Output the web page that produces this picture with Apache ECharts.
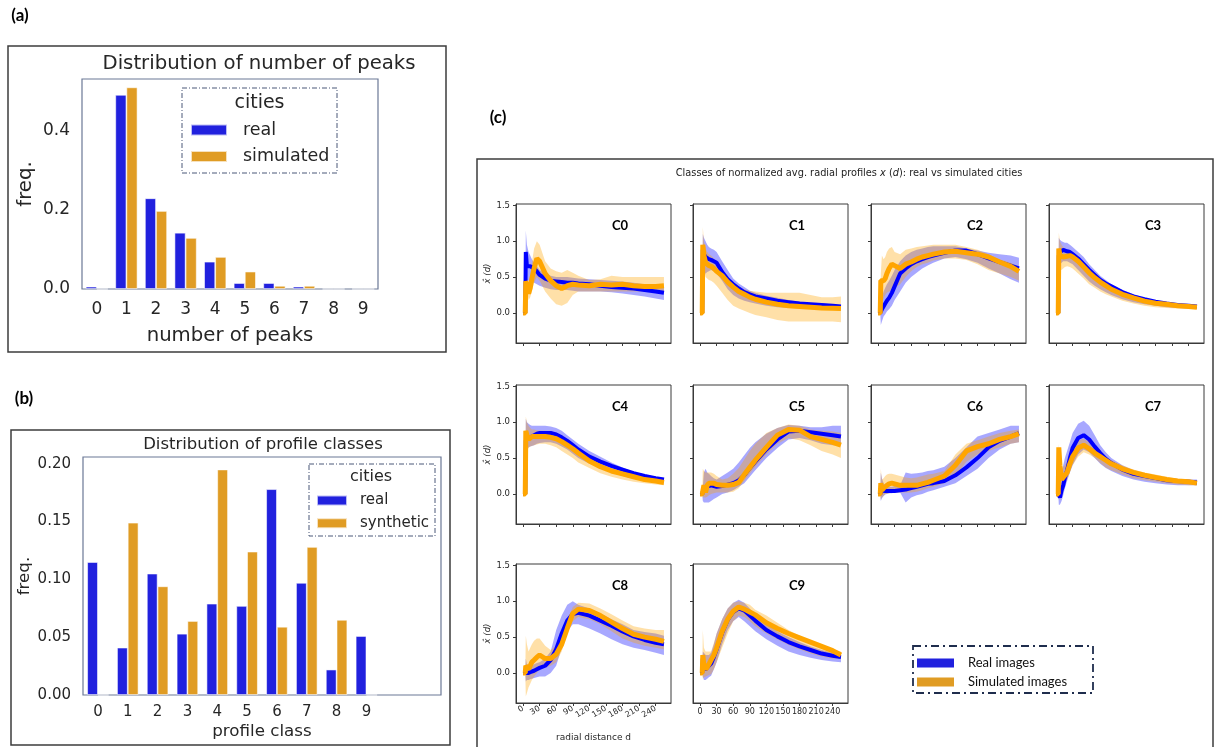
<!DOCTYPE html>
<html>
<head>
<meta charset="utf-8">
<script src="https://cdn.jsdelivr.net/npm/echarts@6/dist/echarts.min.js"></script>
<style>
html,body{margin:0;padding:0;background:#fff;}
#chart{width:1216px;height:747px;}
</style>
</head>
<body>
<div id="chart"></div>
<script>
// ---------- Panel (a): distribution of number of peaks ----------
const peakCats = ['0','1','2','3','4','5','6','7','8','9'];
const peaksReal = [0.006,0.490,0.229,0.142,0.069,0.015,0.015,0.006,0,0];
const peaksSim  = [0,0.509,0.197,0.129,0.081,0.044,0.008,0.008,0,0];
const peakYTicks = [0,0.2,0.4];

// ---------- Panel (b): distribution of profile classes ----------
const classCats = ['0','1','2','3','4','5','6','7','8','9',' ','  '];
const classReal = [0.115,0.041,0.105,0.053,0.079,0.077,0.178,0.097,0.022,0.051];
const classSim  = [0,0.149,0.094,0.064,0.195,0.124,0.059,0.128,0.065,0];
const classYTicks = [0,0.05,0.10,0.15,0.20];

// ---------- Panel (c): radial profiles ----------
const D = [0,4,5,7,10,13,16,20,25,30,40,50,60,70,80,90,100,120,140,160,180,200,220,240,255];
const radialTicks = [0,30,60,90,120,150,180,210,240];
const profileYTicks = [0,0.5,1.0,1.5];

const c0RealMean=[0,0,0.85,0.65,0.65,0.65,0.65,0.62,0.58,0.53,0.48,0.45,0.44,0.43,0.42,0.42,0.41,0.40,0.38,0.36,0.35,0.34,0.32,0.30,0.28];
const c0RealLo  =[0,0,0.40,0.45,0.45,0.44,0.43,0.42,0.40,0.38,0.35,0.33,0.32,0.32,0.32,0.31,0.30,0.30,0.30,0.29,0.27,0.25,0.23,0.20,0.18];
const c0RealHi  =[0,0,1.15,0.95,0.85,0.80,0.75,0.70,0.65,0.60,0.55,0.52,0.50,0.50,0.50,0.49,0.48,0.47,0.46,0.45,0.44,0.42,0.40,0.38,0.35];
const c0SimMean =[0,0,0.44,0.40,0.27,0.35,0.48,0.62,0.76,0.72,0.55,0.45,0.38,0.34,0.38,0.40,0.39,0.38,0.40,0.39,0.40,0.38,0.37,0.37,0.38];
const c0SimLo   =[0,0,0.35,0.30,0.18,0.22,0.30,0.42,0.50,0.45,0.30,0.20,0.12,0.10,0.14,0.25,0.30,0.30,0.30,0.30,0.30,0.30,0.30,0.29,0.28];
const c0SimHi   =[0,0,0.55,0.50,0.40,0.50,0.70,0.90,1.00,0.95,0.72,0.62,0.58,0.56,0.60,0.56,0.52,0.46,0.47,0.52,0.50,0.50,0.50,0.50,0.50];

const c1RealMean=[0,0,0.88,0.82,0.78,0.76,0.75,0.74,0.72,0.70,0.57,0.47,0.40,0.34,0.29,0.26,0.23,0.20,0.17,0.15,0.13,0.12,0.11,0.10,0.09];
const c1RealLo  =[0,0,0.55,0.55,0.55,0.57,0.58,0.60,0.58,0.55,0.45,0.33,0.25,0.20,0.17,0.15,0.13,0.10,0.08,0.07,0.065,0.06,0.055,0.05,0.05];
const c1RealHi  =[0,0,1.10,1.05,1.00,0.95,0.92,0.90,0.88,0.85,0.72,0.60,0.48,0.41,0.36,0.31,0.28,0.24,0.21,0.18,0.16,0.14,0.13,0.12,0.11];
const c1SimMean =[0,0,0.95,0.80,0.70,0.68,0.66,0.65,0.62,0.58,0.52,0.43,0.36,0.30,0.26,0.22,0.19,0.15,0.12,0.10,0.09,0.08,0.07,0.065,0.06];
const c1SimLo   =[0,0,0.70,0.60,0.50,0.48,0.46,0.45,0.42,0.38,0.28,0.18,0.10,0.06,0.03,0.0,-0.03,-0.06,-0.10,-0.12,-0.12,-0.12,-0.12,-0.12,-0.13];
const c1SimHi   =[0,0,1.20,1.00,0.90,0.85,0.82,0.80,0.76,0.72,0.60,0.50,0.42,0.37,0.33,0.31,0.30,0.28,0.28,0.28,0.28,0.25,0.22,0.22,0.23];

const c2RealMean=[0,0,0.02,0.05,0.09,0.13,0.17,0.21,0.28,0.37,0.55,0.62,0.68,0.72,0.75,0.78,0.80,0.84,0.87,0.87,0.82,0.76,0.71,0.66,0.62];
const c2RealLo  =[0,0,-0.17,-0.12,-0.05,-0.02,0.02,0.05,0.10,0.18,0.30,0.42,0.50,0.56,0.62,0.66,0.70,0.76,0.78,0.75,0.70,0.62,0.55,0.47,0.42];
const c2RealHi  =[0,0,0.15,0.22,0.30,0.35,0.40,0.45,0.52,0.60,0.72,0.80,0.85,0.88,0.90,0.92,0.93,0.93,0.93,0.90,0.87,0.84,0.82,0.80,0.77];
const c2SimMean =[0,0,0.45,0.45,0.45,0.48,0.55,0.62,0.68,0.66,0.62,0.68,0.71,0.75,0.78,0.80,0.82,0.85,0.86,0.84,0.82,0.78,0.71,0.65,0.58];
const c2SimLo   =[0,0,0.30,0.15,0.20,0.25,0.28,0.30,0.32,0.35,0.40,0.50,0.58,0.64,0.68,0.70,0.73,0.76,0.76,0.74,0.68,0.60,0.55,0.50,0.45];
const c2SimHi   =[0,0,0.55,0.80,0.75,0.78,0.85,0.90,0.92,0.85,0.82,0.88,0.90,0.92,0.93,0.94,0.95,0.95,0.95,0.92,0.88,0.82,0.75,0.70,0.65];

const c3RealMean=[0,0,0.80,0.85,0.87,0.88,0.87,0.86,0.85,0.82,0.76,0.68,0.60,0.53,0.46,0.41,0.37,0.29,0.23,0.19,0.155,0.13,0.11,0.10,0.09];
const c3RealLo  =[0,0,0.60,0.68,0.70,0.72,0.72,0.72,0.70,0.68,0.60,0.52,0.44,0.38,0.33,0.29,0.25,0.19,0.15,0.12,0.10,0.08,0.07,0.06,0.06];
const c3RealHi  =[0,0,1.05,1.02,1.00,0.99,0.98,0.98,0.95,0.92,0.85,0.78,0.68,0.60,0.52,0.46,0.40,0.32,0.26,0.21,0.17,0.14,0.12,0.10,0.09];
const c3SimMean =[0,0,0.90,0.80,0.78,0.78,0.78,0.79,0.80,0.78,0.72,0.64,0.56,0.49,0.43,0.38,0.33,0.26,0.21,0.165,0.135,0.12,0.10,0.09,0.08];
const c3SimLo   =[0,0,0.70,0.62,0.60,0.62,0.64,0.65,0.64,0.62,0.55,0.48,0.40,0.35,0.30,0.26,0.23,0.17,0.13,0.10,0.08,0.07,0.06,0.06,0.06];
const c3SimHi   =[0,0,1.12,1.00,0.95,0.92,0.90,0.88,0.86,0.82,0.75,0.68,0.60,0.52,0.45,0.40,0.35,0.27,0.22,0.17,0.14,0.12,0.10,0.09,0.09];

const c4RealMean=[0,0,0.75,0.76,0.78,0.79,0.80,0.82,0.84,0.85,0.85,0.85,0.83,0.79,0.74,0.68,0.62,0.52,0.45,0.39,0.34,0.29,0.25,0.22,0.20];
const c4RealLo  =[0,0,0.40,0.60,0.65,0.66,0.67,0.68,0.70,0.71,0.72,0.72,0.70,0.66,0.62,0.56,0.50,0.42,0.36,0.30,0.25,0.21,0.18,0.16,0.15];
const c4RealHi  =[0,0,1.05,1.00,0.98,0.96,0.95,0.95,0.95,0.95,0.95,0.94,0.92,0.88,0.82,0.76,0.70,0.60,0.52,0.44,0.37,0.31,0.27,0.24,0.22];
const c4SimMean =[0,0,0.88,0.82,0.76,0.78,0.80,0.80,0.80,0.80,0.80,0.79,0.77,0.73,0.68,0.63,0.57,0.46,0.38,0.32,0.28,0.24,0.20,0.18,0.16];
const c4SimLo   =[0,0,0.60,0.62,0.64,0.66,0.67,0.68,0.69,0.70,0.70,0.68,0.65,0.60,0.55,0.50,0.44,0.36,0.29,0.24,0.20,0.17,0.15,0.13,0.12];
const c4SimHi   =[0,0,1.08,1.00,0.95,0.92,0.90,0.90,0.89,0.88,0.88,0.87,0.85,0.81,0.76,0.70,0.63,0.52,0.43,0.36,0.31,0.26,0.22,0.20,0.18];

const c5RealMean=[0,0,0.02,0.08,0.08,0.10,0.12,0.12,0.11,0.10,0.11,0.13,0.15,0.19,0.26,0.36,0.45,0.62,0.76,0.87,0.88,0.86,0.84,0.82,0.80];
const c5RealLo  =[0,0,-0.10,-0.12,-0.12,-0.12,-0.12,-0.10,-0.07,-0.05,0.0,0.02,0.05,0.10,0.15,0.24,0.33,0.50,0.64,0.76,0.78,0.75,0.70,0.68,0.68];
const c5RealHi  =[0,0,0.10,0.30,0.35,0.30,0.28,0.25,0.22,0.20,0.25,0.30,0.35,0.44,0.54,0.64,0.72,0.84,0.92,0.96,0.95,0.93,0.93,0.95,0.95];
const c5SimMean =[0,0,0.0,0.12,0.02,0.12,0.15,0.15,0.15,0.13,0.12,0.12,0.13,0.16,0.27,0.37,0.47,0.65,0.82,0.90,0.89,0.80,0.76,0.72,0.68];
const c5SimLo   =[0,0,-0.05,-0.05,-0.05,-0.04,-0.02,0.0,0.01,0.02,0.02,0.02,0.03,0.08,0.18,0.28,0.38,0.55,0.70,0.78,0.75,0.68,0.60,0.55,0.50];
const c5SimHi   =[0,0,0.35,0.32,0.30,0.30,0.30,0.30,0.28,0.25,0.20,0.22,0.28,0.36,0.48,0.60,0.70,0.85,0.92,0.97,0.95,0.90,0.88,0.87,0.85];

const c6RealMean=[0,0,0.02,0.05,0.05,0.04,0.04,0.04,0.04,0.04,0.05,0.06,0.08,0.10,0.12,0.14,0.15,0.18,0.26,0.37,0.50,0.65,0.74,0.80,0.85];
const c6RealLo  =[0,0,-0.10,-0.06,-0.03,-0.01,0.0,0.01,0.01,0.02,0.02,-0.12,-0.05,-0.02,0.0,0.03,0.05,0.10,0.15,0.25,0.35,0.50,0.62,0.70,0.72];
const c6RealHi  =[0,0,0.30,0.22,0.15,0.12,0.10,0.10,0.10,0.11,0.12,0.30,0.28,0.29,0.30,0.32,0.33,0.38,0.50,0.65,0.80,0.85,0.90,0.95,0.95];
const c6SimMean =[0,0,0.15,0.05,0.08,0.10,0.12,0.14,0.15,0.14,0.12,0.12,0.12,0.12,0.14,0.16,0.19,0.25,0.40,0.60,0.66,0.70,0.76,0.80,0.84];
const c6SimLo   =[0,0,-0.08,-0.05,-0.03,0.0,0.0,0.01,0.02,0.02,0.02,0.02,0.02,0.03,0.05,0.08,0.10,0.15,0.25,0.45,0.55,0.60,0.65,0.70,0.72];
const c6SimHi   =[0,0,0.35,0.20,0.22,0.25,0.27,0.28,0.28,0.27,0.25,0.23,0.22,0.23,0.25,0.27,0.28,0.32,0.55,0.70,0.75,0.80,0.85,0.88,0.90];

const c7RealMean=[0,0,0.0,-0.05,0.05,0.12,0.22,0.33,0.50,0.64,0.78,0.82,0.76,0.66,0.57,0.49,0.43,0.34,0.28,0.25,0.22,0.19,0.18,0.17,0.16];
const c7RealLo  =[0,0,-0.15,-0.15,-0.10,-0.02,0.08,0.18,0.30,0.40,0.55,0.62,0.58,0.50,0.42,0.36,0.32,0.25,0.20,0.17,0.15,0.13,0.12,0.12,0.12];
const c7RealHi  =[0,0,0.30,0.30,0.30,0.40,0.50,0.60,0.72,0.85,0.98,1.02,0.95,0.82,0.68,0.58,0.50,0.40,0.33,0.28,0.25,0.22,0.20,0.20,0.20];
const c7SimMean =[0,0,0.65,0.40,0.20,0.22,0.26,0.30,0.42,0.52,0.64,0.68,0.63,0.57,0.52,0.47,0.42,0.35,0.30,0.26,0.23,0.20,0.18,0.17,0.15];
const c7SimLo   =[0,0,0.55,0.30,0.05,0.10,0.15,0.20,0.30,0.40,0.52,0.58,0.55,0.50,0.43,0.37,0.33,0.27,0.22,0.19,0.17,0.15,0.13,0.12,0.12];
const c7SimHi   =[0,0,0.70,0.50,0.35,0.38,0.40,0.45,0.55,0.65,0.75,0.77,0.72,0.65,0.58,0.52,0.47,0.40,0.34,0.30,0.27,0.24,0.21,0.20,0.19];

const c8RealMean=[0,0,0.0,0.0,0.0,0.01,0.02,0.03,0.05,0.07,0.10,0.18,0.33,0.55,0.73,0.82,0.84,0.80,0.73,0.66,0.58,0.51,0.46,0.42,0.40];
const c8RealLo  =[0,0,-0.12,-0.10,-0.10,-0.09,-0.08,-0.07,-0.06,-0.05,-0.05,0.0,0.10,0.35,0.58,0.68,0.68,0.62,0.55,0.47,0.40,0.35,0.32,0.28,0.25];
const c8RealHi  =[0,0,0.20,0.12,0.10,0.10,0.10,0.12,0.14,0.15,0.20,0.30,0.60,0.80,0.95,1.00,0.95,0.90,0.83,0.75,0.68,0.60,0.57,0.55,0.52];
const c8SimMean =[0,0,0.10,0.08,0.05,0.10,0.15,0.18,0.22,0.25,0.20,0.20,0.26,0.40,0.62,0.83,0.89,0.87,0.80,0.71,0.62,0.54,0.50,0.47,0.44];
const c8SimLo   =[0,0,-0.33,-0.28,-0.20,-0.15,-0.10,-0.05,0.0,0.05,0.08,0.10,0.15,0.30,0.55,0.72,0.78,0.75,0.68,0.58,0.48,0.42,0.38,0.35,0.33];
const c8SimHi   =[0,0,0.52,0.40,0.30,0.35,0.40,0.45,0.48,0.48,0.38,0.32,0.38,0.52,0.75,0.92,0.98,0.97,0.90,0.82,0.73,0.65,0.62,0.60,0.60];

const c9RealMean=[0,0,0.20,0.08,0.05,0.07,0.10,0.13,0.22,0.33,0.56,0.74,0.85,0.90,0.87,0.80,0.73,0.60,0.51,0.43,0.37,0.32,0.27,0.24,0.22];
const c9RealLo  =[0,0,-0.05,-0.10,-0.10,-0.08,-0.06,-0.04,0.05,0.15,0.40,0.60,0.72,0.78,0.72,0.65,0.58,0.47,0.38,0.30,0.25,0.21,0.18,0.16,0.15];
const c9RealHi  =[0,0,0.30,0.28,0.25,0.25,0.25,0.28,0.40,0.55,0.75,0.90,0.98,1.02,0.98,0.90,0.80,0.68,0.58,0.50,0.43,0.37,0.32,0.28,0.26];
const c9SimMean =[0,0,0.25,0.10,0.05,0.08,0.12,0.18,0.25,0.35,0.58,0.75,0.86,0.92,0.89,0.85,0.81,0.70,0.62,0.55,0.49,0.43,0.37,0.31,0.25];
const c9SimLo   =[0,0,-0.08,-0.06,-0.05,-0.04,-0.03,-0.02,0.05,0.15,0.35,0.55,0.72,0.80,0.78,0.72,0.65,0.55,0.47,0.39,0.33,0.27,0.23,0.20,0.20];
const c9SimHi   =[0,0,0.60,0.35,0.30,0.30,0.30,0.30,0.42,0.55,0.75,0.90,0.98,1.00,0.98,0.95,0.88,0.80,0.70,0.60,0.52,0.45,0.38,0.33,0.30];

const classNames = ['C0','C1','C2','C3','C4','C5','C6','C7','C8','C9'];
const profiles = [
  [c0RealMean,c0RealLo,c0RealHi,c0SimMean,c0SimLo,c0SimHi],
  [c1RealMean,c1RealLo,c1RealHi,c1SimMean,c1SimLo,c1SimHi],
  [c2RealMean,c2RealLo,c2RealHi,c2SimMean,c2SimLo,c2SimHi],
  [c3RealMean,c3RealLo,c3RealHi,c3SimMean,c3SimLo,c3SimHi],
  [c4RealMean,c4RealLo,c4RealHi,c4SimMean,c4SimLo,c4SimHi],
  [c5RealMean,c5RealLo,c5RealHi,c5SimMean,c5SimLo,c5SimHi],
  [c6RealMean,c6RealLo,c6RealHi,c6SimMean,c6SimLo,c6SimHi],
  [c7RealMean,c7RealLo,c7RealHi,c7SimMean,c7SimLo,c7SimHi],
  [c8RealMean,c8RealLo,c8RealHi,c8SimMean,c8SimLo,c8SimHi],
  [c9RealMean,c9RealLo,c9RealHi,c9SimMean,c9SimLo,c9SimHi]
];

// ---------- styling / layout ----------
const BAR_BLUE = '#2121de', BAR_ORANGE = '#e09c24';
const LINE_BLUE = '#0000ff', LINE_ORANGE = '#ffa500';
const DJ = 'DejaVu Sans';
const TXT = '#262626';
const FRAME = '#6b7896';

const grids = [], xAxes = [], yAxes = [], series = [];

// grid a
grids.push({left:82, top:79, width:296, height:210, show:true, borderColor:FRAME, borderWidth:1.2, backgroundColor:'#fff'});
xAxes.push({type:'category', gridIndex:0, data:peakCats, axisTick:{show:false}, axisLine:{show:false},
  axisLabel:{color:TXT, fontFamily:DJ, fontSize:17, margin:12},
  name:'number of peaks', nameLocation:'middle', nameGap:37, nameTextStyle:{color:TXT, fontFamily:DJ, fontSize:19.7}});
yAxes.push({type:'value', gridIndex:0, min:0, max:0.53, splitLine:{show:false}, axisTick:{show:false}, axisLine:{show:false},
  axisLabel:{color:TXT, fontFamily:DJ, fontSize:17, margin:12, customValues:peakYTicks, formatter:v=>v.toFixed(1)},
  name:'freq.', nameLocation:'middle', nameGap:46, nameTextStyle:{color:TXT, fontFamily:DJ, fontSize:19.7}});
series.push({type:'bar', name:'real', xAxisIndex:0, yAxisIndex:0, data:peaksReal, barGap:'0%', barCategoryGap:'25%',
  itemStyle:{color:BAR_BLUE, borderColor:'rgba(255,255,255,0.7)', borderWidth:0.8}, silent:true});
series.push({type:'bar', name:'simulated', xAxisIndex:0, yAxisIndex:0, data:peaksSim, barGap:'0%', barCategoryGap:'25%',
  itemStyle:{color:BAR_ORANGE, borderColor:'rgba(255,255,255,0.7)', borderWidth:0.8}, silent:true});

// grid b
grids.push({left:83, top:457, width:358, height:238, show:true, borderColor:FRAME, borderWidth:1.2, backgroundColor:'#fff'});
xAxes.push({type:'category', gridIndex:1, data:classCats, axisTick:{show:false}, axisLine:{show:false},
  axisLabel:{color:TXT, fontFamily:DJ, fontSize:15, margin:10, interval:0},
  name:'profile class', nameLocation:'middle', nameGap:28, nameTextStyle:{color:TXT, fontFamily:DJ, fontSize:16.7}});
yAxes.push({type:'value', gridIndex:1, min:0, max:0.2058, splitLine:{show:false}, axisTick:{show:false}, axisLine:{show:false},
  axisLabel:{color:TXT, fontFamily:DJ, fontSize:15, margin:12, customValues:classYTicks, formatter:v=>v.toFixed(2)},
  name:'freq.', nameLocation:'middle', nameGap:50, nameTextStyle:{color:TXT, fontFamily:DJ, fontSize:16.7}});
series.push({type:'bar', name:'real', xAxisIndex:1, yAxisIndex:1, data:classReal, barGap:'0%', barCategoryGap:'28%',
  itemStyle:{color:BAR_BLUE, borderColor:'rgba(255,255,255,0.7)', borderWidth:0.8}, silent:true});
series.push({type:'bar', name:'synthetic', xAxisIndex:1, yAxisIndex:1, data:classSim, barGap:'0%', barCategoryGap:'28%',
  itemStyle:{color:BAR_ORANGE, borderColor:'rgba(255,255,255,0.7)', borderWidth:0.8}, silent:true});

// grids c
const colLefts = [516, 693, 871, 1049];
const rowTops = [204, 385, 564];
const GW = 155, GH = 139;
const subLabels = [];

function bandSeries(gi, lo, hi, color) {
  return {
    type:'custom', xAxisIndex:gi, yAxisIndex:gi, silent:true, clip:true, z:1,
    data:D.map((d,i)=>[d, lo[i], hi[i]]),
    encode:{x:0, y:[1,2]},
    renderItem:function(params, api) {
      if (params.dataIndex !== 0) return null;
      const pts = [];
      for (let i = 0; i < D.length; i++) pts.push(api.coord([D[i], hi[i]]));
      for (let i = D.length - 1; i >= 0; i--) pts.push(api.coord([D[i], lo[i]]));
      return {type:'polygon', shape:{points:pts}, style:{fill:color, stroke:null}};
    }
  };
}

profiles.forEach((p, k) => {
  const row = Math.floor(k / 4), col = k % 4;
  const gi = 2 + k;
  const left = colLefts[col], top = rowTops[row];
  grids.push({left:left, top:top, width:GW, height:GH, show:true, borderColor:'#3a3a3a', borderWidth:1, backgroundColor:'#fff'});
  const bottomRow = row === 2;
  const x = {type:'value', gridIndex:gi, min:-12.75, max:267.75, splitLine:{show:false},
    axisLine:{show:true, onZero:false, lineStyle:{color:'#3a3a3a', width:1}},
    axisTick:{show:true, length:3, customValues:radialTicks, lineStyle:{color:'#3a3a3a'}},
    axisLabel:{show:bottomRow, customValues:radialTicks, color:TXT, fontFamily:DJ, fontSize:8, lineHeight:8, margin:5,
      hideOverlap:false, rotate: k === 8 ? 30 : 0}};
  if (k === 8) {
    x.name = 'radial distance d'; x.nameLocation = 'middle'; x.nameGap = 30;
    x.nameTextStyle = {color:TXT, fontFamily:DJ, fontSize:9};
  }
  xAxes.push(x);
  const y = {type:'value', gridIndex:gi, min:-0.42, max:1.52, splitLine:{show:false},
    axisLine:{show:true, onZero:false, lineStyle:{color:'#3a3a3a', width:1}},
    axisTick:{show:true, length:3, customValues:profileYTicks, lineStyle:{color:'#3a3a3a'}},
    axisLabel:{show:col === 0, customValues:profileYTicks, color:TXT, fontFamily:DJ, fontSize:8.5, margin:6,
      formatter:v=>v.toFixed(1)}};
  if (col === 0) {
    y.name = 'x\u0302 (d)'; y.nameLocation = 'middle'; y.nameGap = 22;
    y.nameTextStyle = {color:TXT, fontFamily:DJ, fontSize:8.5, fontStyle:'italic'};
  }
  yAxes.push(y);

  const [rm, rl, rh, sm, sl, sh] = p;
  series.push(bandSeries(gi, rl, rh, 'rgba(0,0,255,0.34)'));
  series.push(bandSeries(gi, sl, sh, 'rgba(255,165,0,0.34)'));
  series.push({type:'line', name:'Real images', xAxisIndex:gi, yAxisIndex:gi, silent:true, symbol:'none',
    lineStyle:{color:LINE_BLUE, width:4}, itemStyle:{color:LINE_BLUE}, data:D.map((d,i)=>[d, rm[i]]), z:3});
  series.push({type:'line', name:'Simulated images', xAxisIndex:gi, yAxisIndex:gi, silent:true, symbol:'none',
    lineStyle:{color:LINE_ORANGE, width:5}, itemStyle:{color:LINE_ORANGE}, data:D.map((d,i)=>[d, sm[i]]), z:4});

  subLabels.push({type:'text', z:10, style:{x:left + 104, y:top + 22, text:classNames[k],
    font:'bold 13px Lato', fill:'#000', textAlign:'center', textVerticalAlign:'middle'}});
});

const graphics = [
  // panel frames
  {type:'rect', shape:{x:8, y:46, width:438, height:306}, style:{fill:'none', stroke:'#3c3c3c', lineWidth:1.5}},
  {type:'rect', shape:{x:11, y:430, width:439, height:315}, style:{fill:'none', stroke:'#3c3c3c', lineWidth:1.5}},
  {type:'rect', shape:{x:477, y:159, width:736, height:610}, style:{fill:'none', stroke:'#3c3c3c', lineWidth:1.5}},
  // panel letters
  {type:'text', style:{x:20, y:16, text:'(a)', font:'bold 17px Lato', fill:'#000', textAlign:'center', textVerticalAlign:'middle'}},
  {type:'text', style:{x:24, y:399, text:'(b)', font:'bold 17px Lato', fill:'#000', textAlign:'center', textVerticalAlign:'middle'}},
  {type:'text', style:{x:498, y:118, text:'(c)', font:'bold 17px Lato', fill:'#000', textAlign:'center', textVerticalAlign:'middle'}},
  // titles
  {type:'text', style:{x:259, y:64, text:'Distribution of number of peaks', font:'19.7px "DejaVu Sans"', fill:TXT, textAlign:'center', textVerticalAlign:'middle'}},
  {type:'text', style:{x:263, y:445, text:'Distribution of profile classes', font:'16.5px "DejaVu Sans"', fill:TXT, textAlign:'center', textVerticalAlign:'middle'}},
  {type:'text', style:{x:849, y:173, text:'{n|Classes of normalized avg. radial profiles }{i|x}{n| (}{i|d}{n|): real vs simulated cities}',
    rich:{n:{fontFamily:DJ, fontSize:9.8, fill:'#222'}, i:{fontFamily:DJ, fontSize:9.8, fontStyle:'italic', fill:'#222'}},
    textAlign:'center', textVerticalAlign:'middle'}},
  // legend frames
  {type:'rect', shape:{x:182, y:88, width:155, height:85}, style:{fill:'#fff', stroke:'#4a5878', lineWidth:1, lineDash:[5,2,1,2]}},
  {type:'text', style:{x:259.5, y:103, text:'cities', font:'19px "DejaVu Sans"', fill:TXT, textAlign:'center', textVerticalAlign:'middle'}},
  {type:'rect', shape:{x:309, y:464, width:126, height:72}, style:{fill:'#fff', stroke:'#4a5878', lineWidth:1, lineDash:[5,2,1,2]}},
  {type:'text', style:{x:371, y:477, text:'cities', font:'16px "DejaVu Sans"', fill:TXT, textAlign:'center', textVerticalAlign:'middle'}},
  {type:'rect', shape:{x:913, y:646, width:180, height:47}, style:{fill:'#fff', stroke:'#1f2d4d', lineWidth:1.8, lineDash:[8,4,2,4]}}
].concat(subLabels);

const option = {
  animation:false,
  backgroundColor:'#fff',
  grid:grids, xAxis:xAxes, yAxis:yAxes, series:series,
  legend:[
    {orient:'vertical', left:190, top:120, padding:0, itemGap:6.5, itemWidth:36, itemHeight:11, selectedMode:false, z:20,
      data:[{name:'real', icon:'rect'}, {name:'simulated', icon:'rect'}],
      textStyle:{color:TXT, fontFamily:DJ, fontSize:17.5, lineHeight:20, padding:[0,0,0,11]}},
    {orient:'vertical', left:316, top:492, padding:0, itemGap:5.7, itemWidth:30, itemHeight:10, selectedMode:false, z:20,
      data:[{name:'real', icon:'rect'}, {name:'synthetic', icon:'rect'}],
      textStyle:{color:TXT, fontFamily:DJ, fontSize:15, lineHeight:17, padding:[0,0,0,8]}},
    {orient:'vertical', left:917, top:655.5, padding:0, itemGap:4, itemWidth:37, itemHeight:9, selectedMode:false, z:20,
      data:[{name:'Real images', icon:'rect', itemStyle:{color:BAR_BLUE}}, {name:'Simulated images', icon:'rect', itemStyle:{color:BAR_ORANGE}}],
      textStyle:{color:'#111', fontFamily:'Lato', fontSize:13, lineHeight:15, padding:[0,0,0,9]}}
  ],
  graphic:graphics
};

const chart = echarts.init(document.getElementById('chart'), null, {renderer:'canvas'});
chart.setOption(option);
</script>
</body>
</html>
